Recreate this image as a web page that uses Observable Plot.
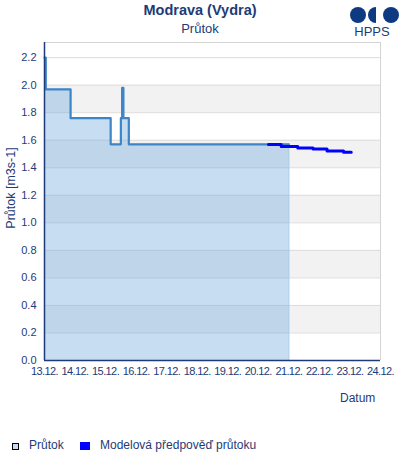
<!DOCTYPE html>
<html><head><meta charset="utf-8">
<script src="https://cdn.jsdelivr.net/npm/d3@7"></script>
<script src="https://cdn.jsdelivr.net/npm/@observablehq/plot@0.6"></script>
<style>
body{margin:0;background:#fff;font-family:"Liberation Sans",Arial,sans-serif;}
#wrap{position:relative;width:400px;height:460px;overflow:hidden;color:#1d3b78;}
.abs{position:absolute;}
</style></head><body>
<div id="wrap">
  <div class="abs" style="left:0;top:0;"><div id="chart"></div></div>
  <div class="abs" style="left:0;width:400px;top:2px;text-align:center;font-weight:bold;font-size:14.5px;">Modrava (Vydra)</div>
  <div class="abs" style="left:0;width:400px;top:21px;text-align:center;font-size:13px;">Průtok</div>
  <div class="abs" style="left:-39px;top:181px;width:100px;height:14px;line-height:14px;text-align:center;font-size:12.5px;transform:rotate(-90deg);white-space:nowrap;">Průtok [m3s-1]</div>
  <div class="abs" style="left:340px;top:391px;font-size:12px;">Datum</div>
  <svg class="abs" style="left:0;top:0" width="400" height="40">
    <circle cx="358" cy="15" r="8" fill="#0e3a82"/>
    <path d="M376,7 A8,8 0 0 0 376,23 Z" fill="#0e3a82"/>
    <circle cx="391" cy="15" r="8" fill="#0e3a82"/>
    <text x="372" y="36" text-anchor="middle" font-size="13" fill="#1d3b78" font-family="Liberation Sans, Arial, sans-serif">HPPS</text>
  </svg>
  <div class="abs" style="left:12px;top:443px;width:5px;height:5px;border:1px solid #000;background:#c5dcf0;"></div>
  <div class="abs" style="left:29px;top:438px;font-size:12px;">Průtok</div>
  <div class="abs" style="left:80px;top:442px;width:10px;height:8px;background:#0000ff;"></div>
  <div class="abs" style="left:100px;top:438px;font-size:12px;">Modelová předpověď průtoku</div>
</div>
<script>
// Observed flow (step series)
const obsTimes = ["2023-12-13T00:00","2023-12-13T01:00","2023-12-13T20:30","2023-12-15T04:00","2023-12-15T12:00","2023-12-15T13:00","2023-12-15T14:00","2023-12-15T18:15","2023-12-21T00:00"];
const obsValues = [2.20,1.97,1.76,1.57,1.76,1.98,1.76,1.57,1.57];
// Model forecast (step series)
const fcTimes = ["2023-12-20T08:00","2023-12-20T18:00","2023-12-21T07:00","2023-12-21T19:00","2023-12-22T06:00","2023-12-22T19:00","2023-12-23T01:00"];
const fcValues = [1.569,1.554,1.544,1.537,1.522,1.513,1.513];
// Axes
const yTicks = [0,0.2,0.4,0.6,0.8,1.0,1.2,1.4,1.6,1.8,2.0,2.2];
const bandStarts = [0.2,0.6,1.0,1.4,1.8];
const xStart = "2023-12-13T00:00", xEnd = "2023-12-24T00:00";

const P = s => new Date(s + ":00Z");
const obs = obsTimes.map((t,i)=>({t:P(t), v:obsValues[i]}));
const fc = fcTimes.map((t,i)=>({t:P(t), v:fcValues[i]}));
const xTicks = d3.utcDay.range(P(xStart), d3.utcDay.offset(P(xEnd),1));
const bands = bandStarts.map(b=>({y1:b, y2:+(b+0.2).toFixed(1)}));
const navy = "#1d3b78";

const chart = Plot.plot({
  width: 400, height: 460,
  marginTop: 42, marginBottom: 100, marginLeft: 44, marginRight: 20,
  style: {fontFamily: "Liberation Sans, Arial, sans-serif", fontSize: "11px", color: navy, background: "transparent"},
  x: {type: "utc", domain: [P(xStart), P(xEnd)], label: null},
  y: {domain: [0, 2.31], label: null},
  marks: [
    Plot.rectY(bands, {x1: P(xStart), x2: P(xEnd), y1: "y1", y2: "y2", fill: "#f2f2f2"}),
    Plot.ruleY(yTicks.slice(1), {stroke: "#dcdcdc", strokeWidth: 1}),
    Plot.areaY(obs, {x: "t", y: "v", curve: "step-after", fill: "#6aa6dc", fillOpacity: 0.38}),
    Plot.ruleX([P("2023-12-21T00:00")], {y1: 0, y2: 1.57, stroke: "#9cc3e8", strokeWidth: 1}),
    Plot.line(obs, {x: "t", y: "v", curve: "step-after", stroke: "#3d85c6", strokeWidth: 2.2}),
    Plot.line(fc, {x: "t", y: "v", curve: "step-after", stroke: "#0000ff", strokeWidth: 3}),
    Plot.ruleY([2.31], {stroke: "#d4d4d4"}),
    Plot.ruleX([P(xEnd)], {stroke: "#d4d4d4"}),
    Plot.axisX({ticks: xTicks, tickFormat: d3.utcFormat("%d.%m."), tickSize: 0, tickPadding: 7, fontSize: 11, fill: navy, label: null}),
    Plot.axisY({ticks: yTicks, tickFormat: d3.format(".1f"), tickSize: 0, tickPadding: 8, fontSize: 11, fill: navy, label: null}),
    Plot.ruleY([0], {stroke: navy, strokeWidth: 1.5}),
    Plot.ruleX([P(xStart)], {stroke: navy, strokeWidth: 1.5})
  ]
});
chart.querySelectorAll("g[aria-label='x-axis tick label'] text").forEach(t=>t.setAttribute("letter-spacing","-0.6"));
document.getElementById("chart").appendChild(chart);
</script>
</body></html>
